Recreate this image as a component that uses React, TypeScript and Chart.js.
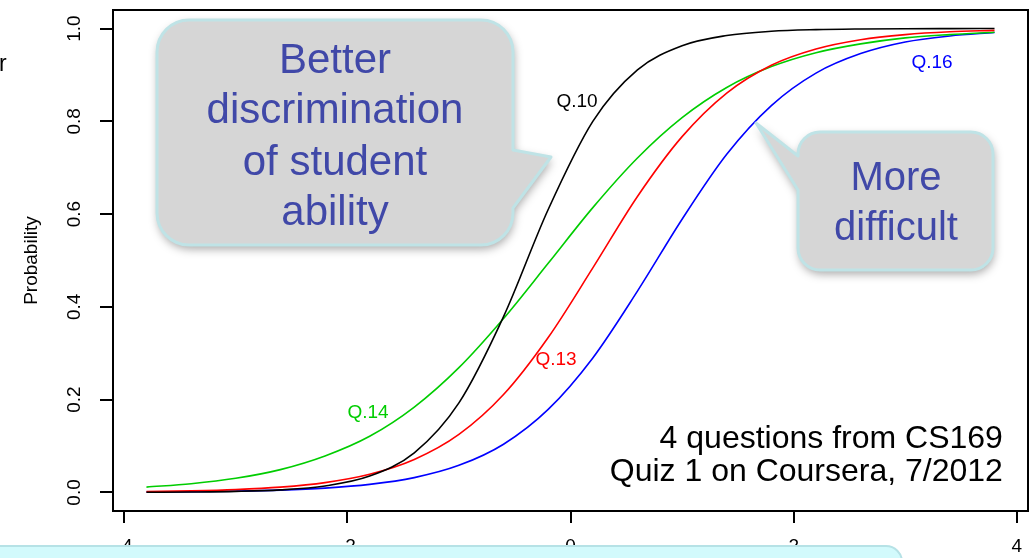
import React, { useEffect, useRef } from "react";
import { Chart, registerables } from "chart.js";

Chart.register(...registerables);

// ability (x) sample points and estimated probabilities
const X_VALUES = [-3.8, -3.4, -3.0, -2.6, -2.2, -1.8, -1.4, -1.0, -0.6, -0.2, 0.2, 0.6, 1.0, 1.4, 1.8, 2.2, 2.6, 3.0, 3.4, 3.8];
const Q10 = [0.0003, 0.0009, 0.0022, 0.0055, 0.014, 0.0352, 0.0854, 0.193, 0.379, 0.61, 0.8, 0.911, 0.963, 0.985, 0.9942, 0.9977, 0.9991, 0.9997, 0.9999, 1.0];
const Q13 = [0.0018, 0.0033, 0.0061, 0.0114, 0.0212, 0.0391, 0.071, 0.125, 0.211, 0.334, 0.484, 0.638, 0.767, 0.861, 0.921, 0.956, 0.976, 0.987, 0.993, 0.996];
const Q14 = [0.0115, 0.0188, 0.0305, 0.0492, 0.0786, 0.121, 0.184, 0.269, 0.375, 0.494, 0.614, 0.721, 0.808, 0.873, 0.918, 0.948, 0.967, 0.98, 0.987, 0.992];
const Q16 = [0.0008, 0.0014, 0.0027, 0.005, 0.0094, 0.0174, 0.032, 0.0584, 0.104, 0.179, 0.29, 0.434, 0.589, 0.729, 0.834, 0.904, 0.946, 0.971, 0.984, 0.9915];

const SERIES_NAMES = ["Q.10", "Q.13", "Q.14", "Q.16"];
const SERIES_COLORS = ["#000000", "#ff0000", "#00cd00", "#0000ff"];
const LABEL_X = [0.058, -0.13, -1.815, 3.24];
const LABEL_Y = [0.842, 0.286, 0.171, 0.927];

const X_TICKS = [-4, -2, 0, 2, 4];
const Y_TICKS = [0, 0.2, 0.4, 0.6, 0.8, 1.0];

const NOTE_LINES = ["4 questions from CS169", "Quiz 1 on Coursera, 7/2012"];
const NOTE_X = 3.875;
const NOTE_Y = [0.0958, 0.0246];

const CALLOUT_LEFT = ["Better", "discrimination", "of student", "ability"];
const CALLOUT_RIGHT = ["More", "difficult"];

const FONT = '"Liberation Sans", Arial, Helvetica, sans-serif';

function roundedCallout(
  ctx: CanvasRenderingContext2D,
  l: number, t: number, r: number, b: number, rad: number,
  side: "left" | "right", y1: number, tipX: number, tipY: number, y2: number
) {
  ctx.beginPath();
  ctx.moveTo(l + rad, t);
  ctx.lineTo(r - rad, t);
  ctx.arcTo(r, t, r, t + rad, rad);
  if (side === "right") {
    ctx.lineTo(r, y1);
    ctx.lineTo(tipX, tipY);
    ctx.lineTo(r, y2);
  }
  ctx.lineTo(r, b - rad);
  ctx.arcTo(r, b, r - rad, b, rad);
  ctx.lineTo(l + rad, b);
  ctx.arcTo(l, b, l, b - rad, rad);
  if (side === "left") {
    ctx.lineTo(l, y2);
    ctx.lineTo(tipX, tipY);
    ctx.lineTo(l, y1);
  }
  ctx.lineTo(l, t + rad);
  ctx.arcTo(l, t, l + rad, t, rad);
  ctx.closePath();
}

function paintCallout(ctx: CanvasRenderingContext2D, draw: () => void) {
  ctx.save();
  draw();
  ctx.shadowColor = "rgba(0,0,0,0.35)";
  ctx.shadowBlur = 10;
  ctx.shadowOffsetX = 1;
  ctx.shadowOffsetY = 4;
  ctx.fillStyle = "#d6d6d6";
  ctx.fill();
  ctx.restore();
  ctx.save();
  draw();
  ctx.strokeStyle = "#bfe3e6";
  ctx.lineWidth = 3;
  ctx.lineJoin = "round";
  ctx.stroke();
  ctx.restore();
}

const overlayPlugin = {
  id: "overlay",
  afterDraw(chart: any) {
    const { ctx, chartArea, scales } = chart;
    const xs = scales.x;
    const ys = scales.y;

    // plot box
    ctx.save();
    ctx.strokeStyle = "#000";
    ctx.lineWidth = 2;
    ctx.strokeRect(chartArea.left, chartArea.top, chartArea.right - chartArea.left, chartArea.bottom - chartArea.top);
    ctx.restore();

    // series labels
    ctx.save();
    ctx.font = `19px ${FONT}`;
    ctx.textAlign = "center";
    ctx.textBaseline = "middle";
    SERIES_NAMES.forEach((name, i) => {
      ctx.fillStyle = SERIES_COLORS[i];
      ctx.fillText(name, xs.getPixelForValue(LABEL_X[i]), ys.getPixelForValue(LABEL_Y[i]));
    });
    ctx.restore();

    // note
    ctx.save();
    ctx.font = `32px ${FONT}`;
    ctx.fillStyle = "#000";
    ctx.textAlign = "right";
    ctx.textBaseline = "alphabetic";
    NOTE_LINES.forEach((line, i) => {
      ctx.fillText(line, xs.getPixelForValue(NOTE_X), ys.getPixelForValue(NOTE_Y[i]));
    });
    ctx.restore();

    // callout 1
    paintCallout(ctx, () => roundedCallout(ctx, 157, 20, 513, 245, 32, "right", 150, 551, 157, 208));
    ctx.save();
    ctx.font = `42px ${FONT}`;
    ctx.fillStyle = "#4048a8";
    ctx.textAlign = "center";
    ctx.textBaseline = "alphabetic";
    const base1 = [73, 123, 175, 225];
    CALLOUT_LEFT.forEach((line, i) => ctx.fillText(line, 335, base1[i]));
    ctx.restore();

    // callout 2
    paintCallout(ctx, () => roundedCallout(ctx, 798, 132, 993, 270, 22, "left", 156, 756, 123, 190));
    ctx.save();
    ctx.font = `40px ${FONT}`;
    ctx.fillStyle = "#4048a8";
    ctx.textAlign = "center";
    ctx.textBaseline = "alphabetic";
    const base2 = [190, 240];
    CALLOUT_RIGHT.forEach((line, i) => ctx.fillText(line, 896, base2[i]));
    ctx.restore();

    // cyan band at the bottom
    ctx.save();
    const r = 16;
    ctx.beginPath();
    ctx.moveTo(-5, 546);
    ctx.lineTo(902 - r, 546);
    ctx.arcTo(902, 546, 902, 546 + r, r);
    ctx.lineTo(902, 575);
    ctx.lineTo(-5, 575);
    ctx.closePath();
    ctx.fillStyle = "#d2fafc";
    ctx.fill();
    ctx.strokeStyle = "#b6e2e6";
    ctx.lineWidth = 2;
    ctx.stroke();
    ctx.restore();

    // cut-off glyph at the top-left edge
    ctx.save();
    ctx.font = `23px ${FONT}`;
    ctx.fillStyle = "#000";
    ctx.textBaseline = "alphabetic";
    ctx.fillText("r", -1, 71);
    ctx.restore();
  },
};

export default function App() {
  const canvasRef = useRef<HTMLCanvasElement | null>(null);

  useEffect(() => {
    if (!canvasRef.current) return;
    const seriesValues = [Q10, Q13, Q14, Q16];
    const chart = new Chart(canvasRef.current, {
      type: "line",
      data: {
        datasets: SERIES_NAMES.map((name, i) => ({
          label: name,
          data: X_VALUES.map((x, j) => ({ x, y: seriesValues[i][j] })),
          borderColor: SERIES_COLORS[i],
          backgroundColor: SERIES_COLORS[i],
          borderWidth: 1.6,
          pointRadius: 0,
          fill: false,
          cubicInterpolationMode: "monotone" as const,
        })),
      },
      options: {
        animation: false,
        responsive: false,
        devicePixelRatio: 1,
        layout: { padding: { left: 0, top: 10, right: 5, bottom: 0 } },
        plugins: { legend: { display: false }, tooltip: { enabled: false } },
        scales: {
          x: {
            type: "linear",
            position: "bottom",
            min: -4.1,
            max: 4.1,
            afterBuildTicks: (s: any) => {
              s.ticks = X_TICKS.map((v) => ({ value: v }));
            },
            afterFit: (s: any) => {
              s.height = 47;
              s.paddingLeft = 0;
              s.paddingRight = 0;
            },
            grid: { display: true, drawOnChartArea: false, drawTicks: true, tickLength: 12, color: "#000", lineWidth: 2 },
            border: { display: false },
            ticks: {
              autoSkip: false,
              maxRotation: 0,
              padding: 12,
              color: "#000",
              font: { size: 19, family: FONT },
              callback: (v: any) => String(v),
            },
          },
          y: {
            type: "linear",
            position: "left",
            min: -0.04,
            max: 1.04,
            afterBuildTicks: (s: any) => {
              s.ticks = Y_TICKS.map((v) => ({ value: v }));
            },
            afterFit: (s: any) => {
              s.width = 113;
              s.paddingTop = 0;
              s.paddingBottom = 0;
            },
            grid: { display: true, drawOnChartArea: false, drawTicks: true, tickLength: 13, color: "#000", lineWidth: 2 },
            border: { display: false },
            title: {
              display: true,
              text: "Probability",
              color: "#000",
              font: { size: 19, family: FONT },
              padding: { top: 20.6, bottom: 0 },
            },
            ticks: {
              autoSkip: false,
              minRotation: 90,
              maxRotation: 90,
              crossAlign: "center",
              padding: 12,
              color: "#000",
              font: { size: 19, family: FONT },
              callback: (v: any) => Number(v).toFixed(1),
            },
          },
        },
      },
      plugins: [overlayPlugin],
    });
    return () => chart.destroy();
  }, []);

  return (
    <div style={{ position: "absolute", left: 0, top: 0, width: 1033, height: 558, overflow: "hidden", background: "#fff" }}>
      <canvas ref={canvasRef} width={1033} height={558} style={{ display: "block", width: 1033, height: 558 }} />
    </div>
  );
}
